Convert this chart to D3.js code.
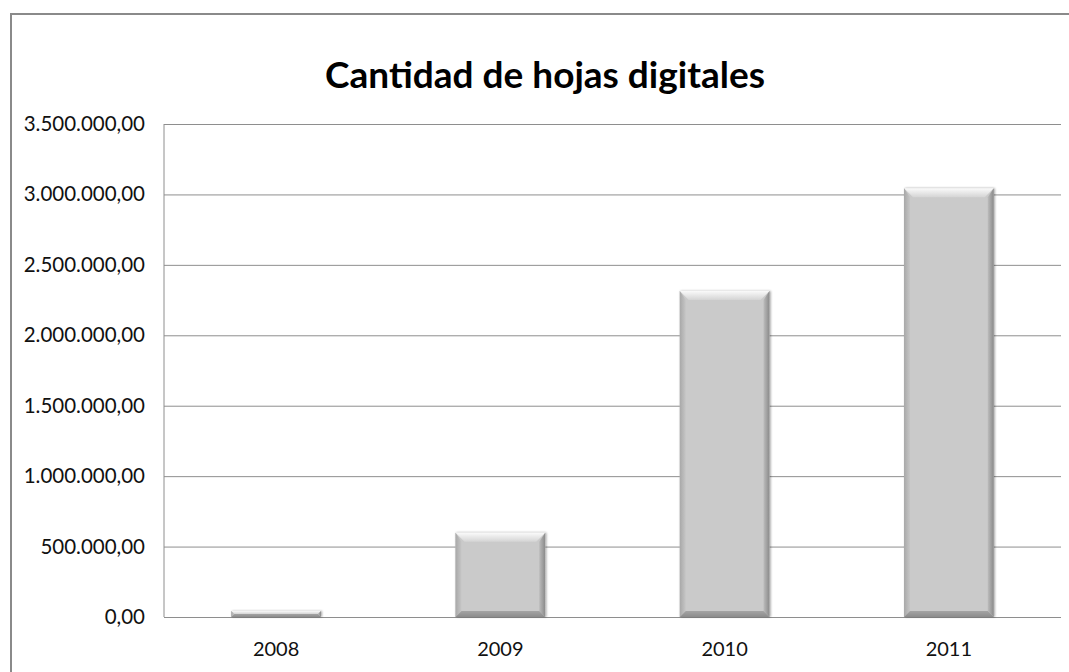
<!DOCTYPE html>
<meta charset="utf-8">
<head>
  <title>Cantidad de hojas digitales</title>
  <script src="https://cdn.jsdelivr.net/npm/d3@7"></script>
  <style>
    body { margin: 0; background: #fff; }
    .tick text { font-family: Lato, "Open Sans", sans-serif; fill: #111; }
    .grid line { stroke: #8e8e8e; stroke-width: 1; }
    .grid .domain { display: none; }
  </style>
</head>
<body>
<div id="chart"></div>
<script>
  // data
  var years = ["2008", "2009", "2010", "2011"];
  var hojas = [43000, 598000, 2315000, 3043000];
  var yTicks = [0, 500000, 1000000, 1500000, 2000000, 2500000, 3000000, 3500000];

  var w = 1069, h = 672;
  var margin = {top: 124, right: 8, bottom: 55, left: 164};
  var innerW = w - margin.left - margin.right;
  var innerH = h - margin.top - margin.bottom;

  var svg = d3.select("#chart").append("svg")
      .attr("width", w).attr("height", h);

  // outer chart frame (runs off the bottom and right like the picture)
  svg.append("rect")
     .attr("x", 11).attr("y", 14)
     .attr("width", w + 20).attr("height", h + 20)
     .attr("fill", "none").attr("stroke", "#8a8a8a").attr("stroke-width", 2);

  svg.append("text")
     .attr("x", 545).attr("y", 88)
     .attr("text-anchor", "middle")
     .attr("font-family", "Lato, 'Open Sans', sans-serif")
     .attr("font-weight", "bold")
     .attr("font-size", 37)
     .attr("fill", "#000")
     .text("Cantidad de hojas digitales");

  var es = d3.formatLocale({decimal: ",", thousands: ".", grouping: [3], currency: ["", "€"]});
  var fmt = es.format(",.2f");

  var x = d3.scaleBand().domain(years).range([0, innerW]).paddingInner(0.6).paddingOuter(0.3);
  var y = d3.scaleLinear().domain([0, 3500000]).range([innerH, 0]);

  var g = svg.append("g").attr("transform", "translate(" + margin.left + "," + margin.top + ")");

  // gridlines + y labels
  var yAxis = g.append("g").attr("class", "grid")
     .call(d3.axisLeft(y).tickValues(yTicks).tickFormat(fmt).tickSize(-innerW).tickPadding(19));
  yAxis.selectAll("text").attr("font-size", 20.5);

  // left plot edge
  g.append("line").attr("x1", 0).attr("x2", 0).attr("y1", 0).attr("y2", innerH)
   .attr("stroke", "#8e8e8e");

  // x labels
  var xAxis = g.append("g").attr("transform", "translate(0," + innerH + ")")
     .call(d3.axisBottom(x).tickSize(0).tickPadding(25));
  xAxis.select(".domain").remove();
  xAxis.selectAll("text").attr("font-size", 20);

  // gradients for bevel
  var defs = svg.append("defs");
  var gTop = defs.append("linearGradient").attr("id", "topBevel").attr("x1", 0).attr("y1", 0).attr("x2", 0).attr("y2", 1);
  gTop.append("stop").attr("offset", "0%").attr("stop-color", "#fafafa");
  gTop.append("stop").attr("offset", "100%").attr("stop-color", "#d4d4d4");
  var gRight = defs.append("linearGradient").attr("id", "rightBevel").attr("x1", 0).attr("y1", 0).attr("x2", 1).attr("y2", 0);
  gRight.append("stop").attr("offset", "0%").attr("stop-color", "#bcbcbc");
  gRight.append("stop").attr("offset", "100%").attr("stop-color", "#8a8a8a");
  var gLeft = defs.append("linearGradient").attr("id", "leftBevel").attr("x1", 0).attr("y1", 0).attr("x2", 1).attr("y2", 0);
  gLeft.append("stop").attr("offset", "0%").attr("stop-color", "#a8a8a8");
  gLeft.append("stop").attr("offset", "100%").attr("stop-color", "#c6c6c6");
  var gBot = defs.append("linearGradient").attr("id", "botBevel").attr("x1", 0).attr("y1", 0).attr("x2", 0).attr("y2", 1);
  gBot.append("stop").attr("offset", "0%").attr("stop-color", "#a4a4a4");
  gBot.append("stop").attr("offset", "100%").attr("stop-color", "#8c8c8c");
  var shadow = defs.append("filter").attr("id", "shadow").attr("x", "-20%").attr("y", "-20%").attr("width", "140%").attr("height", "140%");
  shadow.append("feDropShadow").attr("dx", 1).attr("dy", 0).attr("stdDeviation", 1.2).attr("flood-color", "#000").attr("flood-opacity", 0.35);

  var bars = g.selectAll(".bar").data(years.map(function(d, i) { return {year: d, v: hojas[i]}; }))
     .enter().append("g").attr("class", "bar").attr("filter", "url(#shadow)");

  bars.each(function(d) {
    var b = d3.select(this);
    var x0 = x(d.year), x1 = x0 + x.bandwidth();
    var y0 = y(d.v), y1 = y(0);
    var bev = Math.min(9, (y1 - y0) / 2);
    var side = Math.min(6, (y1 - y0) / 2);
    b.append("rect").attr("x", x0).attr("y", y0).attr("width", x1 - x0).attr("height", y1 - y0)
     .attr("fill", "#cacaca");
    // top bevel
    b.append("polygon").attr("points", [[x0, y0], [x1, y0], [x1 - bev, y0 + bev], [x0 + bev, y0 + bev]].join(" "))
     .attr("fill", "url(#topBevel)");
    // left bevel
    b.append("polygon").attr("points", [[x0, y0], [x0 + side, y0 + bev], [x0 + side, y1 - side], [x0, y1]].join(" "))
     .attr("fill", "url(#leftBevel)");
    // right bevel
    b.append("polygon").attr("points", [[x1, y0], [x1 - side, y0 + bev], [x1 - side, y1 - side], [x1, y1]].join(" "))
     .attr("fill", "url(#rightBevel)");
    // bottom bevel
    b.append("polygon").attr("points", [[x0, y1], [x0 + side, y1 - side], [x1 - side, y1 - side], [x1, y1]].join(" "))
     .attr("fill", "url(#botBevel)");
  });
</script>
</body>
